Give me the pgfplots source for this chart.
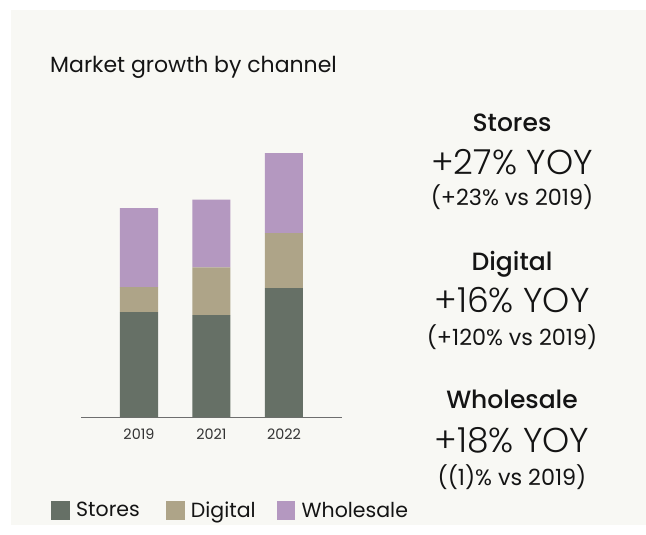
\documentclass[border=0pt]{standalone}
\usepackage{pgfplots}
\pgfplotsset{compat=1.18}
\usepackage{fontspec}
\setmainfont{Poppins}
\newfontfamily\plight{Poppins Light}
\newfontfamily\pmed{Poppins Medium}
\definecolor{bg}{HTML}{F8F8F4}
\definecolor{cstores}{HTML}{667066}
\definecolor{cdigital}{HTML}{AEA488}
\definecolor{cwhole}{HTML}{B498C0}
\definecolor{txt}{HTML}{141414}
\definecolor{axgray}{HTML}{6E6E6E}
\begin{document}
\begin{tikzpicture}[x=1pt,y=1pt]
\useasboundingbox (0,0) rectangle (646,-535);
\fill[white] (0,0) rectangle (646,-535);
\fill[bg] (11,-10) rectangle (646,-525);
\node[anchor=base west, inner sep=0, font=\fontsize{22}{24}\selectfont, text=txt] at (50,-72.3) {Market growth by channel};
\begin{axis}[
  at={(81pt,-417.3pt)}, anchor=south west,
  scale only axis, width=261pt, height=280pt,
  ymin=0, ymax=280, xmin=-0.8, xmax=2.8,
  ybar stacked, bar width=38pt,
  axis x line=bottom, hide y axis,
  x axis line style={-, draw=axgray, line width=1.5pt},
  xtick={0,1,2}, xticklabels={2019,2021,2022},
  major tick length=0pt,
  x tick label style={anchor=base, yshift=-21.7pt, inner sep=0pt, font=\fontsize{14.4}{16}\selectfont, text=black!80},
  legend columns=3,
  legend style={at={(axis description cs:-0.1149,-0.3325)}, anchor=west, draw=none, fill=none, inner sep=0pt,
    font=\fontsize{20.5}{23}\selectfont, text=txt,
    nodes={inner sep=0pt},
    /tikz/every odd column/.append style={column sep=6.3pt},
    /tikz/column 2/.append style={column sep=26pt},
    /tikz/column 4/.append style={column sep=21pt}},
  legend image code/.code={\fill[#1] (0pt,-9.35pt) rectangle (18.7pt,9.35pt);},
]
\addplot[fill=cstores, draw=none] coordinates {(0,105.3) (1,102.3) (2,129.3)};
\addplot[fill=cdigital, draw=none] coordinates {(0,25) (1,47.6) (2,55)};
\addplot[fill=cwhole, draw=none] coordinates {(0,79) (1,67.7) (2,80)};
\legend{Stores,Digital,Wholesale}
\end{axis}
\begin{scope}[every node/.style={anchor=base, inner sep=0, text=txt}]
\node[font=\pmed\fontsize{25}{28}\selectfont] at (512,-131.3) {Stores};
\node[font=\plight\fontsize{34.5}{38}\selectfont] at (512,-174) {+27\% YOY};
\node[font=\fontsize{22.3}{24}\selectfont] at (512,-205.7) {(+23\% vs 2019)};
\node[font=\pmed\fontsize{25}{28}\selectfont] at (512,-270) {Digital};
\node[font=\plight\fontsize{34.5}{38}\selectfont] at (512,-312.7) {+16\% YOY};
\node[font=\fontsize{22.3}{24}\selectfont] at (512,-345) {(+120\% vs 2019)};
\node[font=\pmed\fontsize{25}{28}\selectfont] at (512,-408.3) {Wholesale};
\node[font=\plight\fontsize{34.5}{38}\selectfont] at (512,-452.3) {+18\% YOY};
\node[font=\fontsize{22.3}{24}\selectfont] at (512,-485) {((1)\% vs 2019)};
\end{scope}
\end{tikzpicture}
\end{document}
